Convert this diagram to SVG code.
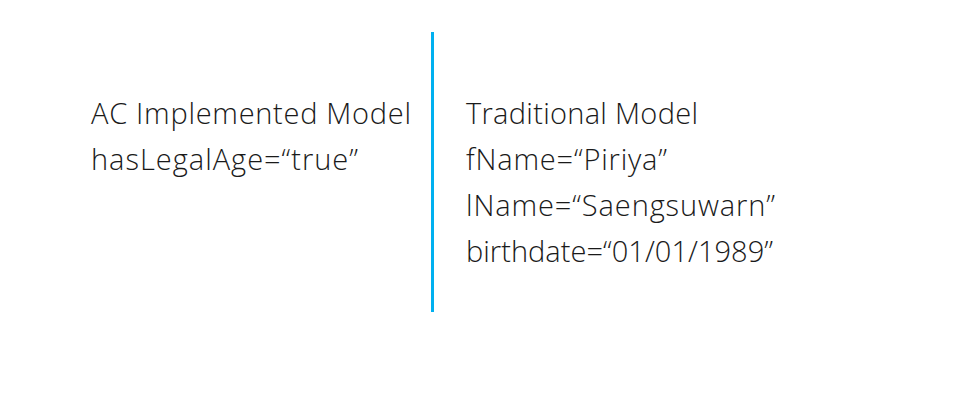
<svg xmlns="http://www.w3.org/2000/svg" width="960" height="400" viewBox="0 0 960 400">
<style>
.t{font-family:"Open Sans","Noto Sans","Liberation Sans",sans-serif;font-weight:300;font-size:29px;fill:#1a1a1a}
</style>
<rect width="960" height="400" fill="#ffffff"/>
<g id="connectors">
<line x1="432.5" y1="32" x2="432.5" y2="312" stroke="#00b0f0" stroke-width="3"/>
</g>
<g id="ac-model">
<text class="t" x="91" y="124" textLength="320">AC Implemented Model</text>
<text class="t" x="91" y="170" textLength="267">hasLegalAge=“true”</text>
</g>
<g id="traditional-model">
<text class="t" x="466" y="124" textLength="232">Traditional Model</text>
<text class="t" x="466" y="170" textLength="201">fName=“Piriya”</text>
<text class="t" x="466" y="216" textLength="309">lName=“Saengsuwarn”</text>
<text class="t" x="466" y="262" textLength="307">birthdate=“01/01/1989”</text>
</g>
</svg>
